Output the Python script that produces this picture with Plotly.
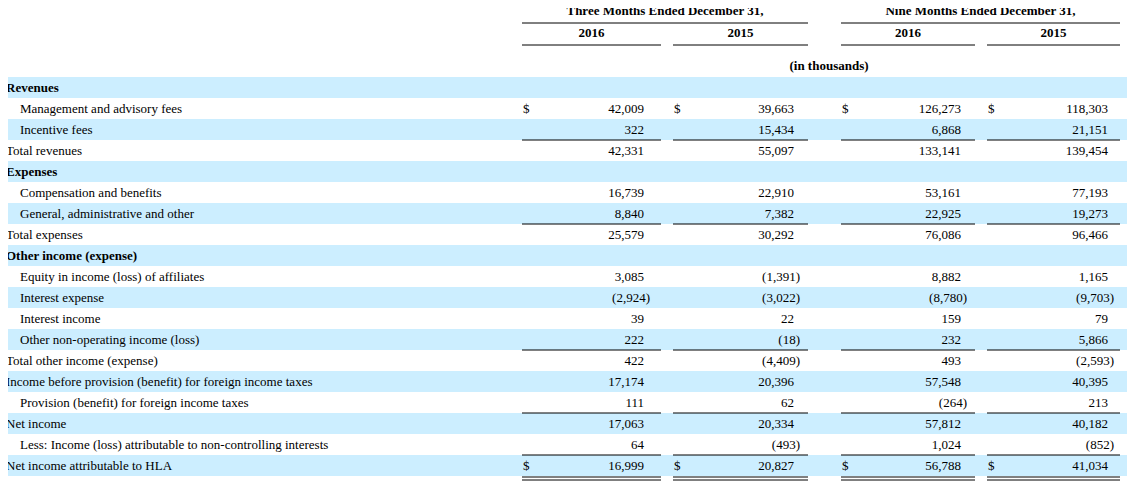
import plotly.graph_objects as go

labels = ["Revenues", "Management and advisory fees", "Incentive fees", "Total revenues",
          "Expenses", "Compensation and benefits", "General, administrative and other",
          "Total expenses", "Other income (expense)", "Equity in income (loss) of affiliates",
          "Interest expense", "Interest income", "Other non-operating income (loss)",
          "Total other income (expense)", "Income before provision (benefit) for foreign income taxes",
          "Provision (benefit) for foreign income taxes", "Net income",
          "Less: Income (loss) attributable to non-controlling interests",
          "Net income attributable to HLA"]
bold = [0, 4, 8]
indent = [1, 2, 5, 6, 9, 10, 11, 12, 15, 17]
q3_2016 = [None, 42009, 322, 42331, None, 16739, 8840, 25579, None, 3085, -2924, 39, 222, 422, 17174, 111, 17063, 64, 16999]
q3_2015 = [None, 39663, 15434, 55097, None, 22910, 7382, 30292, None, -1391, -3022, 22, -18, -4409, 20396, 62, 20334, -493, 20827]
n9_2016 = [None, 126273, 6868, 133141, None, 53161, 22925, 76086, None, 8882, -8780, 159, 232, 493, 57548, -264, 57812, 1024, 56788]
n9_2015 = [None, 118303, 21151, 139454, None, 77193, 19273, 96466, None, 1165, -9703, 79, 5866, -2593, 40395, 213, 40182, -852, 41034]
dollar_rows = [1, 18]
rule_rows = [2, 6, 12, 15, 17]

col_left = [522, 673, 841, 987]
col_right = [661, 808, 975, 1120]
num_right = [644, 794, 961, 1108]
FONT = "Liberation Serif"
row_h = 21
top = 77
OFF = 8  # page body margin

fig = go.Figure()
shapes = []
for i in range(len(labels)):
    if i % 2 == 0:
        shapes.append(dict(type="rect", x0=7, x1=1150, y0=top + i * row_h, y1=top + (i + 1) * row_h,
                           fillcolor="#cceeff", line_width=0, layer="below"))

def ycen(i):
    return top + i * row_h + row_h / 2 + 1

lx, ly, lt = [], [], []
for i, lab in enumerate(labels):
    lx.append(20 if i in indent else 6)
    ly.append(ycen(i))
    lt.append("<b>%s</b>" % lab if i in bold else lab)
fig.add_trace(go.Scatter(x=lx, y=ly, text=lt, mode="text", textposition="middle right",
                         textfont=dict(family=FONT, size=13, color="black"), hoverinfo="skip"))

for c, series in enumerate([q3_2016, q3_2015, n9_2016, n9_2015]):
    px, py, pt, nx, ny, nt = [], [], [], [], [], []
    for i, v in enumerate(series):
        if v is None:
            continue
        if v < 0:
            nx.append(num_right[c] + 6); ny.append(ycen(i)); nt.append("(%s)" % format(-v, ","))
        else:
            px.append(num_right[c]); py.append(ycen(i)); pt.append(format(v, ","))
    for xs, ys, ts in [(px, py, pt), (nx, ny, nt)]:
        fig.add_trace(go.Scatter(x=xs, y=ys, text=ts, mode="text", textposition="middle left",
                                 textfont=dict(family=FONT, size=13, color="black"), hoverinfo="skip"))
    fig.add_trace(go.Scatter(x=[col_left[c] + 1] * len(dollar_rows), y=[ycen(r) for r in dollar_rows],
                             text=["$"] * len(dollar_rows), mode="text", textposition="middle right",
                             textfont=dict(family=FONT, size=13, color="black"), hoverinfo="skip"))
    for r in rule_rows:
        yy = top + (r + 1) * row_h
        shapes.append(dict(type="line", x0=col_left[c], x1=col_right[c], y0=yy, y1=yy, line=dict(color="black", width=1)))
    yb = top + 19 * row_h
    for d in (1, 4):
        shapes.append(dict(type="line", x0=col_left[c], x1=col_right[c], y0=yb + d, y1=yb + d, line=dict(color="black", width=1)))
    shapes.append(dict(type="line", x0=col_left[c], x1=col_right[c], y0=45, y1=45, line=dict(color="black", width=1)))

for x0, x1 in [(col_left[0], col_right[1]), (col_left[2], col_right[3])]:
    shapes.append(dict(type="line", x0=x0, x1=x1, y0=23, y1=23, line=dict(color="black", width=1)))

headers = ["Three Months Ended December 31,", "Nine Months Ended December 31,"]
years = ["2016", "2015", "2016", "2015"]
hx = [(col_left[0] + col_right[1]) / 2, (col_left[2] + col_right[3]) / 2]
yx = [(col_left[c] + col_right[c]) / 2 for c in range(4)]
fig.add_trace(go.Scatter(x=hx + yx + [829], y=[12, 12, 34, 34, 34, 34, 67],
                         text=["<b>%s</b>" % t for t in headers + years + ["(in thousands)"]],
                         mode="text", textposition="middle center",
                         textfont=dict(family=FONT, size=13, color="black"), hoverinfo="skip"))

fig.update_layout(width=1135, height=496, margin=dict(l=0, r=0, t=0, b=0),
                  plot_bgcolor="white", paper_bgcolor="white", showlegend=False, shapes=shapes,
                  xaxis=dict(range=[OFF, 1135 + OFF], visible=False, fixedrange=True),
                  yaxis=dict(range=[496 + OFF, OFF], visible=False, fixedrange=True))
fig.write_html("out.html")
